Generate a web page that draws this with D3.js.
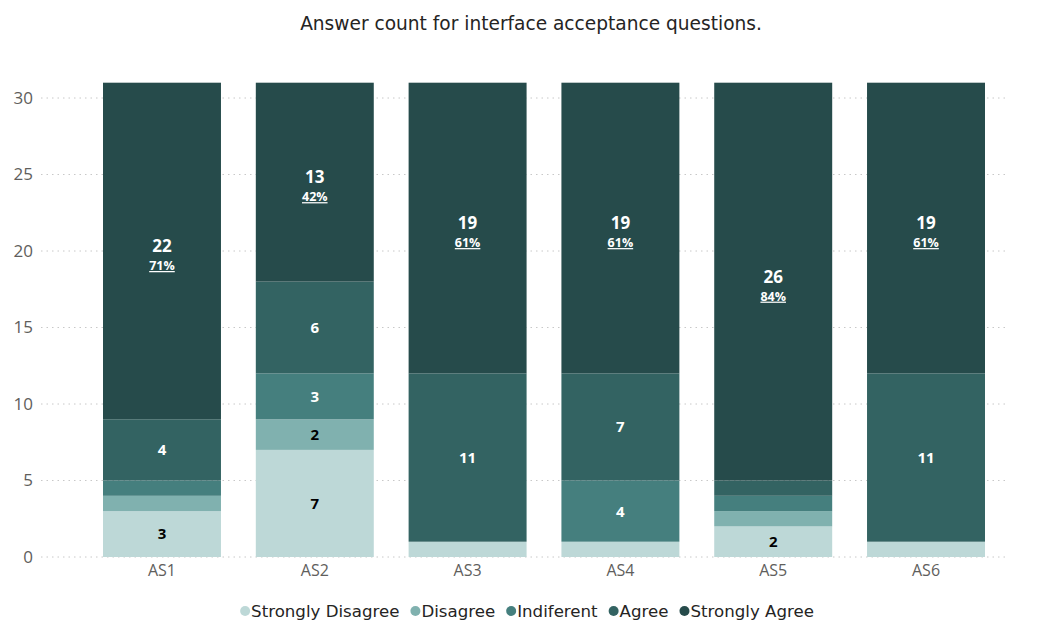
<!DOCTYPE html>
<html><head><meta charset="utf-8">
<script src="https://cdn.jsdelivr.net/npm/d3@7"></script>
<style>body{margin:0;background:#fff}</style>
</head><body>
<svg id="c" width="1040" height="623"></svg>
<script>
const categories = ["AS1","AS2","AS3","AS4","AS5","AS6"];
const seriesNames = ["Strongly Disagree","Disagree","Indiferent","Agree","Strongly Agree"];
const stronglyDisagree = [3,7,1,1,2,1];
const disagree = [1,2,0,0,1,0];
const indiferent = [1,3,0,4,1,0];
const agree = [4,6,11,7,1,11];
const stronglyAgree = [22,13,19,19,26,19];
const yTicks = [0,5,10,15,20,25,30];
const colors = ["#bdd8d7","#80b1af","#457f7e","#336362","#264b4b"];
const labelColors = ["#000","#000","#fff","#fff","#fff"];

const seriesVals = [stronglyDisagree, disagree, indiferent, agree, stronglyAgree];
const data = categories.map((c,i)=>{const o={cat:c}; seriesNames.forEach((s,j)=>o[s]=seriesVals[j][i]); return o;});
const totals = categories.map((c,i)=>seriesVals.reduce((a,s)=>a+s[i],0));

const cf = "'Liberation Sans Narrow','DejaVu Sans',sans-serif";
const svg = d3.select("#c");
const x = d3.scaleBand().domain(categories).range([103,985]).paddingInner(0.228).paddingOuter(0);
const y = d3.scaleLinear().domain([0,30]).range([557,98]);

const title = svg.append("text").attr("x",531).attr("y",30).attr("text-anchor","middle")
  .attr("font-family",cf).attr("font-size",20).attr("fill","#252423")
  .text("Answer count for interface acceptance questions.");
{
  const w = title.node().getComputedTextLength();
  title.attr("font-size", Math.min(24, 20*462/w));
}

// grid
svg.append("g").selectAll("line").data(yTicks).join("line")
  .attr("x1",41).attr("x2",1005).attr("y1",d=>y(d)).attr("y2",d=>y(d))
  .attr("stroke","#c8c8c8").attr("stroke-dasharray","1.5,4").attr("stroke-width",1);

const yAxis = svg.append("g").attr("transform","translate(33,0)")
  .call(d3.axisLeft(y).tickValues(yTicks).tickSize(0).tickPadding(0));
yAxis.select(".domain").remove();
yAxis.selectAll("text").attr("font-family","'Open Sans',sans-serif").attr("font-size",17).attr("fill","#605e5c");

const xAxis = svg.append("g").attr("transform","translate(0,565)")
  .call(d3.axisBottom(x).tickSize(0).tickPadding(0));
xAxis.select(".domain").remove();
xAxis.selectAll("text").attr("dy","0.71em").attr("font-family","'Open Sans',sans-serif").attr("font-size",16).attr("fill","#605e5c");

const stack = d3.stack().keys(seriesNames)(data);
const g = svg.append("g");
stack.forEach((layer,j)=>{
  g.append("g").selectAll("rect").data(layer).join("rect")
    .attr("x",d=>x(d.data.cat)).attr("width",x.bandwidth())
    .attr("y",d=>y(d[1])).attr("height",d=>y(d[0])-y(d[1]))
    .attr("fill",colors[j]);
});
const lab = svg.append("g").attr("font-family","'Open Sans',sans-serif").attr("text-anchor","middle");
stack.forEach((layer,j)=>{
  layer.forEach((d,i)=>{
    const v = d[1]-d[0];
    if (v<2) return;
    const cx = x(d.data.cat)+x.bandwidth()/2;
    const cy = (y(d[0])+y(d[1]))/2;
    if (j===4){
      lab.append("text").attr("x",cx).attr("y",cy+1).attr("font-size",17).attr("font-weight","bold")
        .attr("fill",labelColors[j]).text(v);
      lab.append("text").attr("x",cx).attr("y",cy+19).attr("font-size",12.5).attr("font-weight","bold")
        .attr("fill",labelColors[j]).attr("text-decoration","underline").text(Math.round(v/totals[i]*100)+"%");
    } else {
      lab.append("text").attr("x",cx).attr("y",cy).attr("dy","0.36em").attr("font-size",15).attr("font-weight","bold")
        .attr("fill",labelColors[j]).text(v);
    }
  });
});

// legend
const lg = svg.append("g").attr("font-family",cf).attr("font-size",19);
const items = [];
seriesNames.forEach((s,j)=>{
  const it = lg.append("g");
  it.append("circle").attr("cx",5).attr("cy",0).attr("r",5).attr("fill",colors[j]);
  const t = it.append("text").attr("x",11).attr("dy","0.35em").attr("fill","#252423").text(s);
  items.push({it,t});
});
{
  const tot = items.reduce((a,o)=>a+o.t.node().getComputedTextLength(),0);
  lg.attr("font-size", Math.min(22, 19*475/tot));
}
items.forEach(o=>o.w = 11 + o.t.node().getComputedTextLength());
const gap = 11;
const totalW = items.reduce((a,b)=>a+b.w,0)+gap*(items.length-1);
let lx = 527 - totalW/2;
items.forEach(o=>{o.it.attr("transform",`translate(${lx},611)`); lx+=o.w+gap;});
</script>
</body></html>
